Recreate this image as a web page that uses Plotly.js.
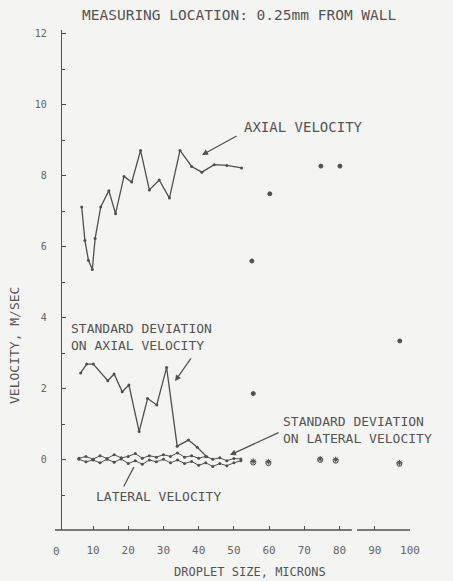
<!DOCTYPE html>
<html>
<head>
<meta charset="utf-8">
<script src="https://cdn.plot.ly/plotly-3.0.1.min.js"></script>
<style>
html,body{margin:0;padding:0;background:#f4f4f2;}
#chart{width:453px;height:581px;}
</style>
</head>
<body>
<div id="chart"></div>
<script>
// Axial velocity (connected curve)
const axialX = [6.8, 7.7, 8.7, 9.8, 10.6, 12.2, 14.5, 16.4, 18.8, 21.0, 23.5, 26.0, 28.8, 31.7, 34.7, 38.0, 40.9, 44.4, 48.0, 52.2];
const axialY = [7.12, 6.18, 5.62, 5.36, 6.23, 7.12, 7.58, 6.93, 7.98, 7.82, 8.71, 7.60, 7.88, 7.37, 8.71, 8.26, 8.10, 8.31, 8.29, 8.22];
// Axial velocity isolated points
const axialIsoX = [55.1, 60.2, 74.7, 80.1, 97.1];
const axialIsoY = [5.60, 7.49, 8.27, 8.27, 3.35];

// Standard deviation on axial velocity
const sdAxialX = [6.5, 8.2, 10.1, 14.2, 16.0, 18.3, 20.2, 23.1, 25.5, 28.1, 30.9, 33.9, 37.1, 39.6, 42.3];
const sdAxialY = [2.45, 2.70, 2.70, 2.23, 2.42, 1.92, 2.11, 0.80, 1.73, 1.55, 2.60, 0.39, 0.56, 0.36, 0.09];
const sdAxialIsoX = [55.5];
const sdAxialIsoY = [1.87];

// Lateral velocity
const latX = [6, 8, 10, 12, 14, 16, 18, 20, 22, 24, 26, 28, 30, 32, 34, 36, 38, 40, 42, 44, 46, 48, 50, 52];
const latY = [0.02, -0.05, 0.00, -0.08, 0.02, -0.06, 0.03, -0.10, -0.02, -0.12, 0.00, -0.05, 0.02, -0.08, 0.00, -0.10, -0.04, -0.15, -0.08, -0.18, -0.10, -0.16, -0.08, -0.02];
const latIsoX = [55.5, 59.8, 74.5, 78.9, 97.0];
const latIsoY = [-0.07, -0.09, 0.00, -0.02, -0.11];

// Standard deviation on lateral velocity
const sdLatX = [6, 8, 10, 12, 14, 16, 18, 20, 22, 24, 26, 28, 30, 32, 34, 36, 38, 40, 42, 44, 46, 48, 50, 52];
const sdLatY = [0.05, 0.10, 0.02, 0.12, 0.04, 0.15, 0.06, 0.10, 0.18, 0.05, 0.12, 0.08, 0.15, 0.10, 0.20, 0.08, 0.12, 0.05, 0.10, 0.02, 0.06, -0.02, 0.04, 0.03];
const sdLatIsoX = [55.5, 59.8, 74.5, 78.9, 97.0];
const sdLatIsoY = [-0.04, -0.05, 0.03, 0.01, -0.08];

const xTicks = [10, 20, 30, 40, 50, 60, 70, 80, 90, 100];
const yTicks = [0, 2, 4, 6, 8, 10, 12];

const INK = '#505050';
const FONT = 'DejaVu Sans Mono, monospace';

const lineTrace = (x, y, w) => ({
  x: x, y: y, type: 'scatter', mode: 'lines+markers',
  line: {color: INK, width: w || 1.3},
  marker: {color: INK, size: 3},
  showlegend: false, hoverinfo: 'skip'
});
const ptTrace = (x, y, sym, sz) => ({
  x: x, y: y, type: 'scatter', mode: 'markers',
  marker: {color: INK, size: sz || 4, symbol: sym, line: {color: INK, width: 1}},
  showlegend: false, hoverinfo: 'skip'
});

const data = [
  lineTrace(axialX, axialY),
  ptTrace(axialIsoX, axialIsoY, 'circle', 4),
  lineTrace(sdAxialX, sdAxialY),
  ptTrace(sdAxialIsoX, sdAxialIsoY, 'circle', 4),
  lineTrace(latX, latY, 1),
  lineTrace(sdLatX, sdLatY, 1),
  ptTrace(latIsoX, latIsoY, 'circle-open', 5),
  ptTrace(sdLatIsoX, sdLatIsoY, 'asterisk-open', 5)
];

const txt = {family: FONT, size: 14, color: '#555'};
const txt2 = {family: FONT, size: 13, color: '#555'};

const layout = {
  width: 453, height: 581,
  paper_bgcolor: '#f4f4f2', plot_bgcolor: '#f4f4f2',
  margin: {l: 62, r: 43, t: 30, b: 51},
  xaxis: {
    range: [1.2, 100], tickvals: xTicks, ticks: 'inside', ticklen: 4,
    tickcolor: INK, showline: false, showgrid: false, zeroline: false,
    tickfont: {family: FONT, size: 11, color: '#666'}, ticklabelstandoff: 12
  },
  yaxis: {
    range: [-1.97, 12.1], tickvals: yTicks, ticks: 'inside', ticklen: 4,
    tickcolor: INK, showline: true, linecolor: INK, linewidth: 1.3,
    showgrid: false, zeroline: false,
    minor: {dtick: 1, ticks: 'inside', ticklen: 3, tickcolor: INK},
    tickfont: {family: FONT, size: 10, color: '#666'}, ticklabelstandoff: 12
  },
  shapes: [
    {type: 'line', xref: 'paper', yref: 'paper', x0: -0.02, x1: 0.833, y0: 0, y1: 0, line: {color: INK, width: 1.3}},
    {type: 'line', xref: 'paper', yref: 'paper', x0: 0.848, x1: 1.0, y0: 0, y1: 0, line: {color: INK, width: 1.3}}
  ],
  annotations: [
    {xref: 'paper', yref: 'paper', x: 0.052, y: 1.03, xanchor: 'left', yanchor: 'middle',
     text: 'MEASURING LOCATION: 0.25mm FROM WALL', showarrow: false, font: {family: FONT, size: 14.5, color: '#555'}},
    {xref: 'paper', yref: 'paper', x: -0.138, y: 0.37, textangle: -90, xanchor: 'center', yanchor: 'middle',
     text: 'VELOCITY, M/SEC', showarrow: false, font: {family: FONT, size: 13, color: '#555'}},
    {xref: 'paper', yref: 'paper', x: 0.54, y: -0.084, xanchor: 'center', yanchor: 'middle',
     text: 'DROPLET SIZE, MICRONS', showarrow: false, font: {family: FONT, size: 12, color: '#555'}},
    {xref: 'paper', yref: 'paper', x: -0.017, y: -0.042, xanchor: 'center', yanchor: 'middle',
     text: '0', showarrow: false, font: {family: FONT, size: 11, color: '#666'}},
    {xref: 'x', yref: 'y', x: 69.9, y: 9.37, xanchor: 'center', yanchor: 'middle',
     text: 'AXIAL VELOCITY', showarrow: false, font: txt},
    {xref: 'x', yref: 'y', x: 40.95, y: 8.58, axref: 'x', ayref: 'y', ax: 51.2, ay: 9.14,
     showarrow: true, arrowhead: 2, arrowsize: 1, arrowwidth: 1.2, arrowcolor: INK, text: ''},
    {xref: 'x', yref: 'y', x: 3.2, y: 3.47, xanchor: 'left', yanchor: 'middle', align: 'left',
     text: 'STANDARD DEVIATION<br>ON AXIAL VELOCITY', showarrow: false, font: txt2},
    {xref: 'x', yref: 'y', x: 33.3, y: 2.22, axref: 'x', ayref: 'y', ax: 38.1, ay: 2.9,
     showarrow: true, arrowhead: 2, arrowsize: 1, arrowwidth: 1.2, arrowcolor: INK, text: ''},
    {xref: 'x', yref: 'y', x: 63.5, y: 0.84, xanchor: 'left', yanchor: 'middle', align: 'left',
     text: 'STANDARD DEVIATION<br>ON LATERAL VELOCITY', showarrow: false, font: txt2},
    {xref: 'x', yref: 'y', x: 48.9, y: 0.14, axref: 'x', ayref: 'y', ax: 63.1, ay: 0.79,
     showarrow: true, arrowhead: 2, arrowsize: 1, arrowwidth: 1.2, arrowcolor: INK, text: ''},
    {xref: 'x', yref: 'y', x: 10.3, y: -1.04, xanchor: 'left', yanchor: 'middle',
     text: 'LATERAL VELOCITY', showarrow: false, font: txt2},
    {xref: 'x', yref: 'y', x: 21.6, y: -0.2, axref: 'x', ayref: 'y', ax: 18.5, ay: -0.79,
     showarrow: true, arrowhead: 0, arrowwidth: 1.2, arrowcolor: INK, text: ''}
  ]
};

Plotly.newPlot('chart', data, layout, {displayModeBar: false, staticPlot: true});
</script>
</body>
</html>
